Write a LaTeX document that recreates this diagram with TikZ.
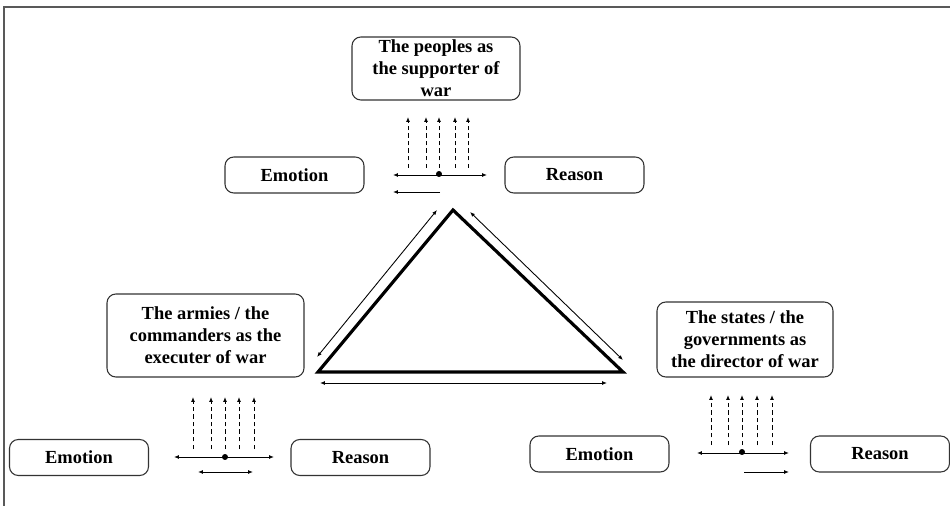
\documentclass[tikz,border=0pt]{standalone}
\usepackage{fontspec}
\setmainfont{Liberation Serif}
\usetikzlibrary{arrows.meta}

\tikzset{
  box/.style={draw=black!80, line width=0.6pt, rounded corners=5pt, align=center,
    inner sep=0pt, font=\bfseries\fontsize{10.5}{12.5}\selectfont},
  small/.style={box, minimum width=2.78cm, minimum height=0.72cm},
  thin/.style={line width=0.5pt, >={Latex[length=2.8pt,width=2.2pt]}},
  pull/.style={thin, ->, dash pattern=on 2.5pt off 1.8pt}
}

\begin{document}
\begin{tikzpicture}[x=0.02cm, y=-0.02cm]
\useasboundingbox (0,0) rectangle (950,506);
% frame
\draw[black!65, line width=0.7pt] (4,506) -- (4,7) -- (950,7);

% the three corners
\node[box, minimum width=3.36cm, minimum height=1.26cm] (peoples) at (436,68.5) {The peoples as\\the supporter of\\war};
\node[box, minimum width=3.94cm, minimum height=1.66cm] (armies) at (205.5,335.5) {The armies / the\\commanders as the\\executer of war};
\node[box, minimum width=3.52cm, minimum height=1.5cm] (states) at (745,339.5) {The states / the\\governments as\\the director of war};

% emotion and reason
\node[small] (pemo) at (294.5,175) {Emotion};
\node[small] (prea) at (574.5,175) {Reason};
\node[small] (aemo) at (79,457.5) {Emotion};
\node[small] (area) at (360.5,457.5) {Reason};
\node[small] (semo) at (599.5,454) {Emotion};
\node[small] (srea) at (880,454) {Reason};

% triangle
\coordinate (top) at (453,210);
\coordinate (left) at (318,372);
\coordinate (right) at (623,372);
\draw[line width=1.8pt, line join=miter] (top) -- (left) -- (right) -- cycle;
\draw[thin, <->] (437,210) -- (317,357);
\draw[thin, <->] (470,212) -- (623,360);
\draw[thin, <->] (320,383) -- (607,383);

% peoples
\foreach \d in {-31,-13,0,16,29}
  \draw[pull] (439+\d,168) -- (439+\d,117);
\draw[thin, <->] (393,175) -- (487,175);
\fill (439,174) circle (1.7pt);
\draw[thin, ->] (440,192) -- (393,192);

% armies
\foreach \d in {-32,-14,0,14,29}
  \draw[pull] (225+\d,449) -- (225+\d,397);
\draw[thin, <->] (174,457) -- (274,457);
\fill (225,457) circle (1.7pt);
\draw[thin, <->] (198,472) -- (253,472);

% states
\foreach \d in {-31,-14,0,15,30}
  \draw[pull] (742+\d,445) -- (742+\d,395);
\draw[thin, <->] (697,453) -- (789,453);
\fill (742,452) circle (1.7pt);
\draw[thin, ->] (744,472) -- (789,472);

\end{tikzpicture}
\end{document}
